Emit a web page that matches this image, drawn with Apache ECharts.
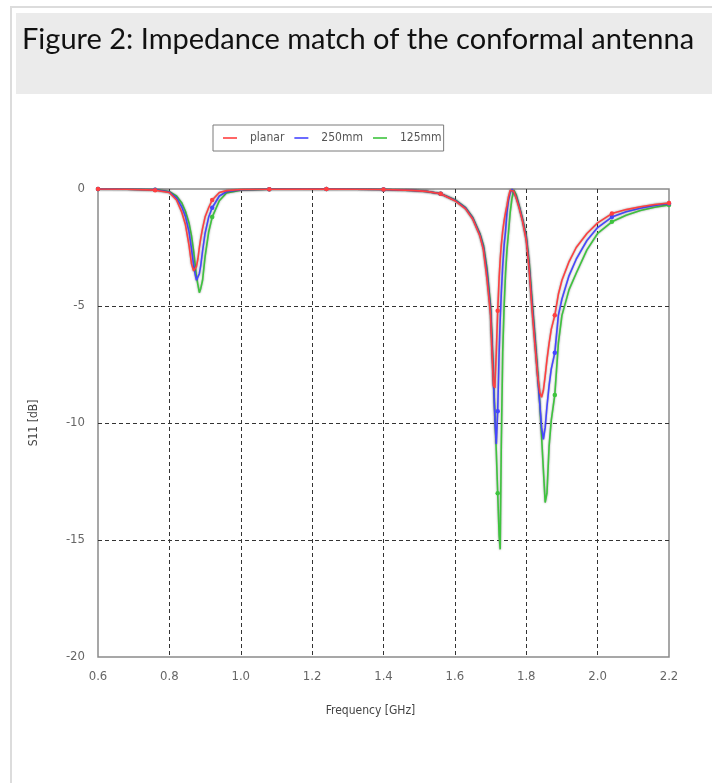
<!DOCTYPE html>
<html>
<head>
<meta charset="utf-8">
<script src="https://cdn.jsdelivr.net/npm/echarts@6/dist/echarts.min.js"></script>
<style>
  html, body { margin: 0; padding: 0; background: #ffffff; }
  #chart { position: absolute; left: 0; top: 0; width: 712px; height: 783px; }
</style>
</head>
<body>
<div id="chart"></div>
<script>
const titleText = 'Figure 2: Impedance match of the conformal antenna';
const seriesNames = ['planar', '250mm', '125mm'];
const xTicks = [0.6, 0.8, 1.0, 1.2, 1.4, 1.6, 1.8, 2.0, 2.2];
const yTicks = [0, -5, -10, -15, -20];
const markerFreqs = [0.6, 0.76, 0.92, 1.08, 1.24, 1.40, 1.56, 1.72, 1.88, 2.04, 2.2];

const freq = [
  0.60, 0.68, 0.76, 0.80, 0.82, 0.835, 0.845, 0.855, 0.862, 0.868, 0.872, 0.876, 0.880, 0.884, 0.888, 0.893,
  0.90, 0.91, 0.92, 0.94, 0.96, 1.00, 1.08, 1.24, 1.40, 1.48, 1.52, 1.56, 1.60, 1.63, 1.65, 1.67, 1.68, 1.69,
  1.695, 1.700, 1.704, 1.708, 1.712, 1.716, 1.720, 1.724, 1.727, 1.730, 1.734, 1.738, 1.742, 1.746, 1.750,
  1.755, 1.760, 1.765, 1.772, 1.780, 1.790, 1.800, 1.808, 1.816, 1.824, 1.832, 1.838, 1.843, 1.848, 1.853,
  1.858, 1.864, 1.870, 1.880, 1.890, 1.90, 1.92, 1.94, 1.97, 2.00, 2.04, 2.08, 2.12, 2.16, 2.20
];

const planar = [
  0, -0.01, -0.05, -0.15, -0.47, -1.0, -1.52, -2.4, -3.2, -3.5, -3.5, -3.3, -2.98, -2.5, -2.1, -1.68,
  -1.2, -0.8, -0.47, -0.15, -0.07, -0.02, -0.01, 0, -0.02, -0.06, -0.1, -0.2, -0.5, -0.85, -1.28, -2.0, -2.6, -3.85,
  -4.6, -5.4, -7.0, -8.4, -8.5, -7.0, -5.2, -3.8, -3.0, -2.4, -1.8, -1.35, -1.0, -0.7, -0.35,
  -0.05, 0, -0.1, -0.4, -0.8, -1.4, -2.2, -3.4, -5.1, -6.6, -8.0, -8.7, -8.9, -8.6, -8.0,
  -7.3, -6.6, -6.0, -5.4, -4.5, -3.9, -3.1, -2.5, -1.9, -1.45, -1.05, -0.88, -0.76, -0.66, -0.6
];

const mm250 = [
  0, -0.01, -0.03, -0.13, -0.38, -0.77, -1.17, -1.82, -2.55, -3.26, -3.62, -3.9, -3.9, -3.62, -3.26, -2.65,
  -1.9, -1.21, -0.8, -0.3, -0.12, -0.03, -0.01, 0, -0.02, -0.06, -0.1, -0.2, -0.48, -0.82, -1.25, -1.95, -2.5, -3.6,
  -4.4, -5.2, -6.6, -8.2, -9.8, -10.9, -9.5, -7.0, -5.6, -4.5, -3.3, -2.4, -1.8, -1.0, -0.5,
  -0.15, 0, -0.05, -0.35, -0.75, -1.35, -2.1, -3.3, -4.9, -6.4, -8.0, -9.2, -10.2, -10.7, -10.2,
  -9.3, -8.4, -7.7, -7.0, -5.4, -4.7, -3.7, -3.0, -2.2, -1.65, -1.2, -0.97, -0.82, -0.7, -0.62
];

const mm125 = [
  0, -0.01, -0.03, -0.11, -0.3, -0.6, -0.95, -1.45, -2.0, -2.65, -3.2, -3.75, -4.1, -4.43, -4.25, -3.9,
  -2.9, -1.85, -1.2, -0.5, -0.17, -0.05, -0.01, 0, -0.02, -0.06, -0.1, -0.2, -0.46, -0.8, -1.22, -1.9, -2.4, -3.4,
  -4.2, -5.0, -6.4, -8.0, -9.6, -11.2, -13.0, -14.8, -15.4, -11.0, -7.0, -5.0, -3.6, -2.6, -1.9,
  -1.0, -0.4, -0.05, -0.25, -0.7, -1.3, -2.0, -3.1, -4.7, -6.2, -7.8, -9.2, -10.6, -12.0, -13.4,
  -13.0, -11.0, -9.9, -8.8, -6.6, -5.4, -4.3, -3.6, -2.6, -1.9, -1.4, -1.12, -0.92, -0.78, -0.68
];

const colors = ['#ff4040', '#4646ff', '#3ec43e'];
const valueSets = [planar, mm250, mm125];

function isMarker(f) {
  return markerFreqs.some(m => Math.abs(m - f) < 1e-6);
}

const labelFont = "'DejaVu Sans Condensed', 'DejaVu Sans', sans-serif";

const series = valueSets.map((vals, i) => ({
  name: seriesNames[i],
  type: 'line',
  data: freq.map((f, k) => [f, vals[k]]),
  smooth: false,
  showSymbol: true,
  symbol: 'circle',
  symbolSize: (val) => isMarker(val[0]) ? 4.5 : 0,
  itemStyle: { color: colors[i] },
  lineStyle: { color: colors[i], width: 1.6, shadowColor: 'rgba(60,60,60,0.55)', shadowBlur: 2 },
  z: 10 - i,
  animation: false,
  emphasis: { disabled: true }
}));

const chart = echarts.init(document.getElementById('chart'), null, { renderer: 'canvas' });
chart.setOption({
  backgroundColor: '#ffffff',
  animation: false,
  graphic: [
    { type: 'rect', shape: { x: 11, y: 7, width: 720, height: 800 }, style: { fill: '#ffffff', stroke: '#dcdcdc', lineWidth: 2 }, z: -10, silent: true },
    { type: 'rect', shape: { x: 16, y: 13, width: 710, height: 81 }, style: { fill: '#ebebeb' }, z: -9, silent: true },
    { type: 'text', left: 22, top: 25, style: { text: titleText, fill: '#111111', font: "29px Lato, 'Open Sans', sans-serif" }, z: 5, silent: true }
  ],
  legend: {
    left: 213, top: 125,
    orient: 'horizontal',
    data: seriesNames,
    icon: 'rect',
    itemWidth: 14, itemHeight: 1.6,
    itemGap: 10,
    padding: [7, 2, 7, 10],
    borderColor: '#7a7a7a', borderWidth: 1,
    backgroundColor: '#ffffff',
    selectedMode: false,
    textStyle: { color: '#555', fontSize: 12, fontFamily: labelFont, width: 60, padding: [0, 0, 0, 8] }
  },
  grid: {
    left: 98, top: 189, width: 571, height: 468,
    show: true, borderColor: '#8a8a8a', borderWidth: 1.5, backgroundColor: 'transparent',
    containLabel: false
  },
  xAxis: {
    type: 'value', min: 0.6, max: 2.2, interval: 0.2,
    name: 'Frequency [GHz]', nameLocation: 'middle', nameGap: 48,
    nameTextStyle: { color: '#444', fontSize: 12, fontFamily: labelFont, padding: [0, 26, 0, 0] },
    axisLine: { show: false }, axisTick: { show: false },
    axisLabel: { color: '#666', fontSize: 13, fontFamily: labelFont, margin: 13, formatter: v => v.toFixed(1) },
    splitLine: { show: true, showMinLine: false, showMaxLine: false, lineStyle: { color: '#333', width: 1, type: [4, 3] } }
  },
  yAxis: {
    type: 'value', min: -20, max: 0, interval: 5,
    name: 'S11 [dB]', nameLocation: 'middle', nameGap: 58, nameRotate: 90,
    nameTextStyle: { color: '#444', fontSize: 12, fontFamily: labelFont },
    axisLine: { show: false }, axisTick: { show: false },
    axisLabel: { color: '#666', fontSize: 13, fontFamily: labelFont, margin: 13 },
    splitLine: { show: true, showMinLine: false, showMaxLine: false, lineStyle: { color: '#333', width: 1, type: [4, 3] } }
  },
  series: series
});
</script>
</body>
</html>
